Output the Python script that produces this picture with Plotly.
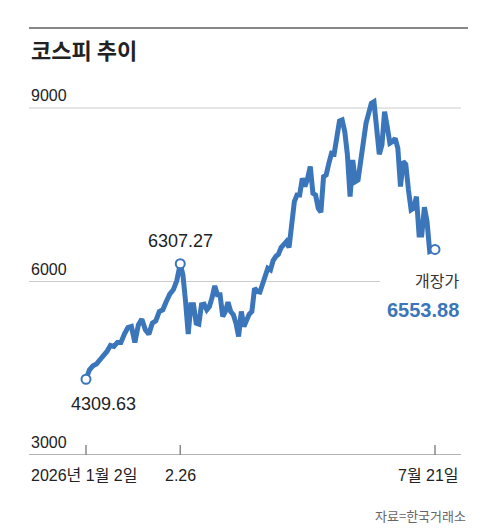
import plotly.graph_objects as go

values = [4309.63,4474,4543,4572,4647,4716,4791,4894,4877,4946,4946,5090,5205,5223,4946,5251,5349,5165,5090,5280,
5321,5482,5511,5655,5781,5856,6012,6307.27,6115,5655,5090,5597,5597,5280,5263,5597,5608,5511,5568,5724,
5925,5770,5770,5395,5482,5643,5482,5424,5280,5050,5482,5223,5338,5436,5482,5885,5827,5816,5954,6086,
6230,6202,6363,6432,6472,6587,6633,6691,6587,6979,7382,7497,7497,7785,7641,7785,7987,7526,7497,7267,
7198,7814,7843,8044,8217,8205,8476,8775,8793,8591,8188,7468,8102,7727,7756,8073,8533,8735,8907,9080,
9109,8735,8200,8361,8937,8677,8390,8418,8476,8303,7641,8073,8027,7583,7238,7267,7468,6806,6806,7284,
7036,6518,6530,6553.88]
tick_labels = ["2026년 1월 2일", "2.26", "7월 21일"]
tick_days = [0, 37, 137]   # trading days: Jan 2, Feb 26, Jul 21
grid_vals = [3000, 6000, 9000]
peak = 27
last = len(values) - 1
# trading-day position of each sample
days = [i * tick_days[1] / peak if i <= peak else
        tick_days[1] + (i - peak) * (tick_days[2] - tick_days[1]) / (last - peak) for i in range(len(values))]

BLUE = "#3b76bb"
FONT = "Liberation Sans, Noto Sans CJK KR, sans-serif"
L, R, T, B = 21, 27, 60, 85
W, H = 480, 532
pw, ph = W - L - R, H - T - B
def px(x): return (x - L) / pw
def py(y): return (H - B - y) / ph
# x range so that day 0 -> 78px, day 137 -> 427px
scale = (427 - 78) / 137
xr = [-(78 - L) / scale, 137 + (W - R - 427) / scale]

fig = go.Figure()
fig.add_trace(go.Scatter(x=days, y=values, mode="lines",
                         line=dict(color=BLUE, width=5), hoverinfo="skip"))
fig.add_trace(go.Scatter(x=[days[0], days[peak], days[last]], y=[values[0], values[peak], values[last]], mode="markers",
                         marker=dict(size=9, color="white", line=dict(color=BLUE, width=2))))

shapes = []
shapes.append(dict(type="line", xref="paper", yref="paper", x0=px(21), x1=px(460), y0=py(20), y1=py(20),
                   line=dict(color="#888", width=2)))
for g in grid_vals:
    x1 = 1 if g != 6000 else px(372)
    shapes.append(dict(type="line", xref="paper", yref="y", x0=0, x1=x1, y0=g, y1=g,
                       line=dict(color="#999" if g == 3000 else "#ccc", width=1.5 if g == 3000 else 1), layer="below"))
for t in tick_days:
    shapes.append(dict(type="line", xref="x", yref="paper", x0=t, x1=t, y0=0, y1=py(437),
                       line=dict(color="#888", width=1.5)))

ann = []
for g in grid_vals:
    ann.append(dict(xref="paper", yref="y", x=0, y=g, text=str(g), showarrow=False, xanchor="left",
                    yanchor="bottom", yshift=2, font=dict(size=16, color="#222")))
ann.append(dict(xref="paper", yref="paper", x=0, y=py(467), text=tick_labels[0], showarrow=False,
                xanchor="left", yanchor="middle", font=dict(size=16, color="#222")))
ann.append(dict(xref="x", yref="paper", x=tick_days[1], y=py(467), text=tick_labels[1], showarrow=False,
                xanchor="center", yanchor="middle", font=dict(size=16, color="#222")))
ann.append(dict(xref="paper", yref="paper", x=1, y=py(467), text=tick_labels[2], showarrow=False,
                xanchor="right", yanchor="middle", font=dict(size=16, color="#222")))
ann.append(dict(xref="x", yref="y", x=days[peak], y=values[peak], text=f"{values[peak]:.2f}", showarrow=False,
                yshift=23, font=dict(size=18, color="#222")))
ann.append(dict(xref="x", yref="y", x=days[0], y=values[0], text=f"{values[0]:.2f}", showarrow=False,
                xshift=17, yshift=-25, font=dict(size=18, color="#222")))
ann.append(dict(xref="paper", yref="paper", x=1, y=py(273), text="개장가", showarrow=False,
                xanchor="right", yanchor="middle", font=dict(size=16, color="#333")))
ann.append(dict(xref="paper", yref="paper", x=1, y=py(302), text=f"<b>{values[last]:.2f}</b>", showarrow=False,
                xanchor="right", yanchor="middle", font=dict(size=20, color=BLUE)))
ann.append(dict(xref="paper", yref="paper", x=px(21), y=py(41), text="<b>코스피 추이</b>", showarrow=False,
                xanchor="left", yanchor="middle", font=dict(size=22, color="#222", family="Noto Sans CJK KR")))
ann.append(dict(xref="paper", yref="paper", x=px(460), y=py(508), text="자료=한국거래소", showarrow=False,
                xanchor="right", yanchor="middle", font=dict(size=13, color="#666", family="Noto Sans CJK KR")))

fig.update_layout(width=W, height=H, margin=dict(l=L, r=R, t=T, b=B),
                  paper_bgcolor="white", plot_bgcolor="white", showlegend=False,
                  font=dict(family=FONT), shapes=shapes, annotations=ann,
                  xaxis=dict(range=xr, visible=False),
                  yaxis=dict(range=[3000, 9692], visible=False))
fig.write_html("out.html", config={"displayModeBar": False})
